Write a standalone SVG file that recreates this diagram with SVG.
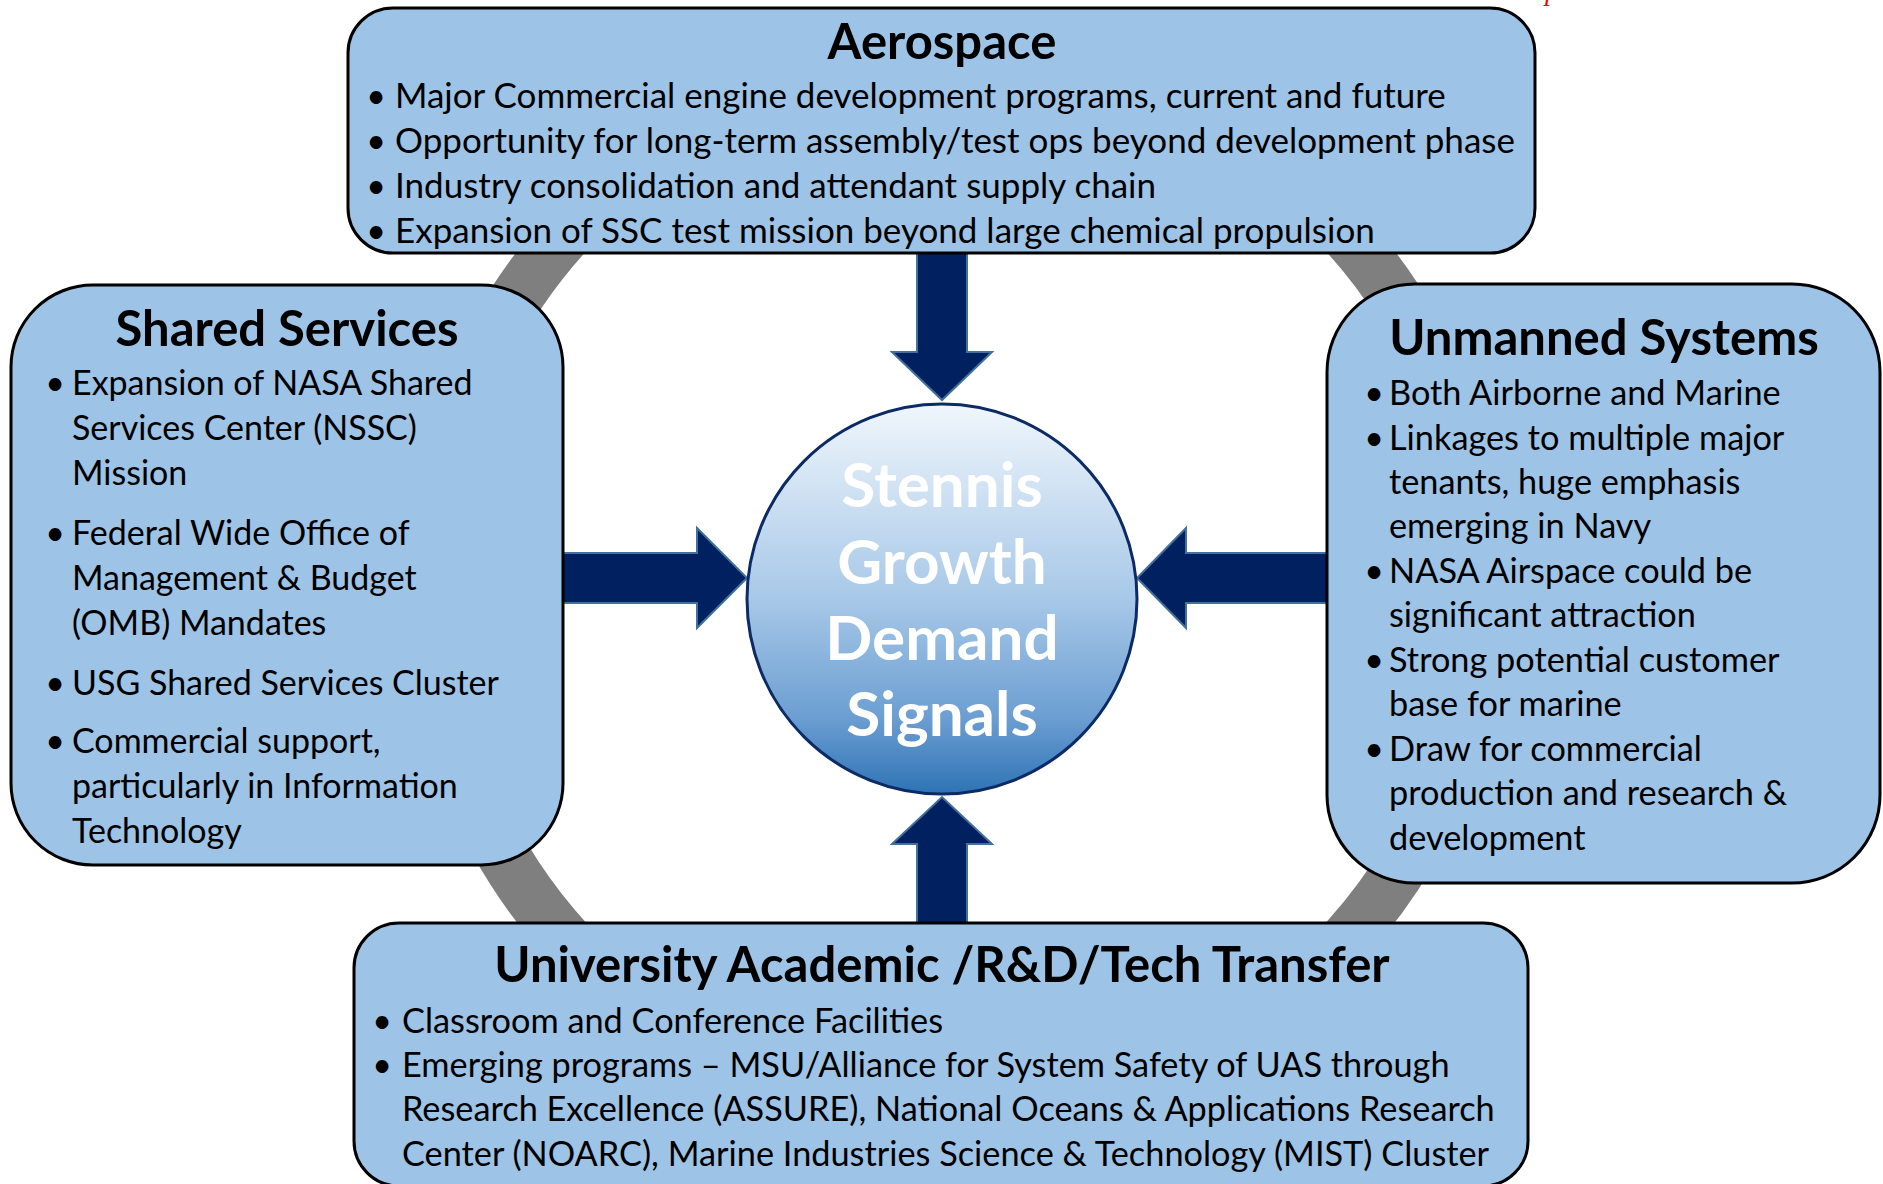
<svg xmlns="http://www.w3.org/2000/svg" width="1883" height="1184" viewBox="0 0 1883 1184">
  <defs>
    <linearGradient id="hubFill" x1="0" y1="0" x2="0" y2="1">
      <stop offset="0" stop-color="#F0F6FC"/>
      <stop offset="0.5" stop-color="#A7C8E8"/>
      <stop offset="0.8" stop-color="#6D9FD2"/>
      <stop offset="1" stop-color="#2E73B5"/>
    </linearGradient>
    <style>
      .box { fill: #9DC3E6; stroke: #000; stroke-width: 3; }
      .title { font-family: Lato, "Liberation Sans", sans-serif; font-weight: bold; font-size: 49px; fill: #000; text-anchor: middle; }
      .item { font-family: Lato, "Liberation Sans", sans-serif; font-size: 34px; fill: #000; }
      .dot { font-family: Lato, "Liberation Sans", sans-serif; font-size: 34px; fill: #000; text-anchor: middle; }
      #aerospace .item { font-size: 35px; }
      #unmanned-systems .item, #university .item { font-size: 34.3px; }
      .arrow { fill: #002060; stroke: #41719C; stroke-width: 2; }
      .hubText { font-family: Lato, "Liberation Sans", sans-serif; font-weight: bold; font-size: 62px; fill: #fff; text-anchor: middle; }
    </style>
  </defs>

  <rect width="1883" height="1184" fill="#fff"/>

  <!-- grey ring tying the four areas together -->
  <circle cx="956" cy="587" r="526" fill="none" stroke="#7F7F7F" stroke-width="53"/>

  <!-- cut-off red note at the top edge -->
  <text x="1545" y="0" font-family="'Liberation Serif', serif" font-style="italic" font-size="28" fill="#FF0000">p</text>

  <!-- arrows feeding the hub -->
  <g id="connectors">
    <polygon class="arrow" points="917,250 967,250 967,352 992,352 942,400 892,352 917,352"/>
    <polygon class="arrow" points="917,926 967,926 967,844 992,844 942,797 892,844 917,844"/>
    <polygon class="arrow" points="560,553 697,553 697,528 747,578 697,628 697,603 560,603"/>
    <polygon class="arrow" points="1330,553 1186,553 1186,528 1137,578 1186,628 1186,603 1330,603"/>
  </g>

  <g id="aerospace">
    <rect class="box" x="348" y="8" width="1187" height="245" rx="45" ry="45"/>
    <text class="title" x="942" y="59">Aerospace</text>
    <text class="dot" x="376" y="108">•</text>
    <text class="item" x="395" y="108">Major Commercial engine development programs, current and future</text>
    <text class="dot" x="376" y="153">•</text>
    <text class="item" x="395" y="153">Opportunity for long-term assembly/test ops beyond development phase</text>
    <text class="dot" x="376" y="198">•</text>
    <text class="item" x="395" y="198">Industry consolidation and attendant supply chain</text>
    <text class="dot" x="376" y="243">•</text>
    <text class="item" x="395" y="243">Expansion of SSC test mission beyond large chemical propulsion</text>
  </g>

  <g id="shared-services">
    <rect class="box" x="11" y="285" width="552" height="580" rx="82" ry="82"/>
    <text class="title" x="287" y="346">Shared Services</text>
    <text class="dot" x="55" y="395">•</text>
    <text class="item" x="72" y="395">Expansion of NASA Shared</text>
    <text class="item" x="72" y="440">Services Center (NSSC)</text>
    <text class="item" x="72" y="485">Mission</text>
    <text class="dot" x="55" y="545">•</text>
    <text class="item" x="72" y="545">Federal Wide Office of</text>
    <text class="item" x="72" y="590">Management &amp; Budget</text>
    <text class="item" x="72" y="635">(OMB) Mandates</text>
    <text class="dot" x="55" y="695">•</text>
    <text class="item" x="72" y="695">USG Shared Services Cluster</text>
    <text class="dot" x="55" y="753">•</text>
    <text class="item" x="72" y="753">Commercial support,</text>
    <text class="item" x="72" y="798">particularly in Information</text>
    <text class="item" x="72" y="843">Technology</text>
  </g>

  <g id="unmanned-systems">
    <rect class="box" x="1327" y="284" width="553" height="599" rx="88" ry="88"/>
    <text class="title" x="1604" y="355">Unmanned Systems</text>
    <text class="dot" x="1374" y="405">•</text>
    <text class="item" x="1389" y="405">Both Airborne and Marine</text>
    <text class="dot" x="1374" y="450">•</text>
    <text class="item" x="1389" y="450">Linkages to multiple major</text>
    <text class="item" x="1389" y="494">tenants, huge emphasis</text>
    <text class="item" x="1389" y="538">emerging in Navy</text>
    <text class="dot" x="1374" y="583">•</text>
    <text class="item" x="1389" y="583">NASA Airspace could be</text>
    <text class="item" x="1389" y="627">significant attraction</text>
    <text class="dot" x="1374" y="672">•</text>
    <text class="item" x="1389" y="672">Strong potential customer</text>
    <text class="item" x="1389" y="716">base for marine</text>
    <text class="dot" x="1374" y="761">•</text>
    <text class="item" x="1389" y="761">Draw for commercial</text>
    <text class="item" x="1389" y="805">production and research &amp;</text>
    <text class="item" x="1389" y="850">development</text>
  </g>

  <g id="university">
    <rect class="box" x="354" y="923" width="1174" height="263" rx="45" ry="45"/>
    <text class="title" x="942" y="982">University Academic /R&amp;D/Tech Transfer</text>
    <text class="dot" x="382" y="1033">•</text>
    <text class="item" x="402" y="1033">Classroom and Conference Facilities</text>
    <text class="dot" x="382" y="1077">•</text>
    <text class="item" x="402" y="1077">Emerging programs – MSU/Alliance for System Safety of UAS through</text>
    <text class="item" x="402" y="1121">Research Excellence (ASSURE), National Oceans &amp; Applications Research</text>
    <text class="item" x="402" y="1166">Center (NOARC), Marine Industries Science &amp; Technology (MIST) Cluster</text>
  </g>

  <g id="hub">
    <circle cx="942" cy="599" r="195" fill="url(#hubFill)" stroke="#0B2A66" stroke-width="3"/>
    <text class="hubText" x="942" y="507">Stennis</text>
    <text class="hubText" x="942" y="584">Growth</text>
    <text class="hubText" x="942" y="660">Demand</text>
    <text class="hubText" x="942" y="736">Signals</text>
  </g>
</svg>
